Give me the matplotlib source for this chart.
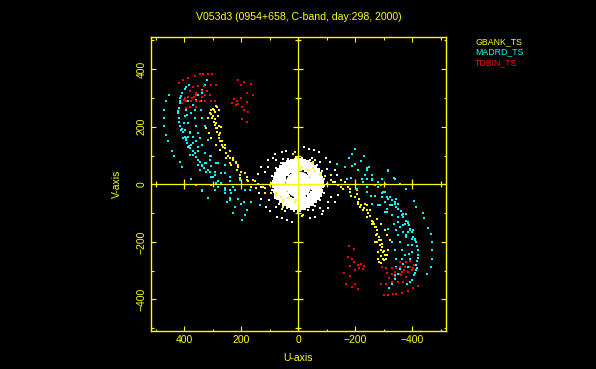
import numpy as np
import matplotlib
matplotlib.use('Agg')
import matplotlib.pyplot as plt

# half of the uv plane, the other half is the conjugate (-u, -v)
white_core = [(0, 0)]
white_ring1 = [(58,0),(57,10),(55,20),(50,29),(44,37),(37,44),(29,50),(20,55),(10,57),(0,58),(-10,57),(-20,55),(-29,50),(-37,44),(-44,37),(-50,29),(-55,20),(-57,10)]
white_ring2 = [(68,0),(67,12),(64,23),(59,34),(52,44),(44,52),(34,59),(23,64),(12,67),(0,68),(-12,67),(-23,64),(-34,59),(-44,52),(-52,44),(-59,34),(-64,23),(-67,12)]
white_ring3 = [(78,0),(77,14),(73,27),(68,39),(60,50),(50,60),(39,68),(27,73),(14,77),(0,78),(-14,77),(-27,73),(-39,68),(-50,60),(-60,50),(-68,39),(-73,27),(-77,14)]
white_ring4 = [(63,5),(61,16),(57,27),(52,36),(45,45),(36,52),(27,57),(16,61),(5,63),(-5,63),(-16,61),(-27,57),(-36,52),(-45,45),(-52,36),(-57,27),(-61,16),(-63,5)]
white_ring5 = [(73,6),(71,19),(66,31),(60,42),(52,52),(42,60),(31,66),(19,71),(6,73),(-6,73),(-19,71),(-31,66),(-42,60),(-52,52),(-60,42),(-66,31),(-71,19),(-73,6)]
white_ring6 = [(84,7),(81,22),(76,36),(69,48),(59,59),(48,69),(36,76),(22,81),(7,84),(-7,84),(-22,81),(-36,76),(-48,69),(-59,59),(-69,48),(-76,36),(-81,22),(-84,7)]
white_fill = [(-51,6),(-50,14),(-47,24),(52,4),(51,14),(-8,52),(6,51),(-40,34),(38,36),(22,47)]
white_sparse = [(92,5),(90,30),(78,56),(60,74),(34,88),(8,94),(-15,92),(-40,84),(-66,68),(-82,46),(-90,20),
                (88,93),(105,60),(117,43),(76,83),(53,89),(-47,93),(-76,78),(-102,54),(-117,31),(-129,8),
                (82,104),(58,112),(43,116),(105,83),(129,60),(140,37),(-20,130),(-39,124),(-55,118),(-73,112),(-97,93),(-113,78),(-129,51),(-138,31)]

yellow_main = [(289,273),(296,259),(298,236),(295,218),(293,207),(289,195),(284,183),(277,160),(273,149),(266,137),(258,126),(252,110),(240,91),(219,73),(199,44),(181,27),(158,15),(141,2),(117,-14),(94,-29),
               (292,250),(290,228),(287,212),(283,195),(278,172),(268,150),(262,130),(246,100),(230,84),(210,60)]
yellow_outer = [(310,247),(315,230),(324,195),(313,178),(304,160),(289,137),(275,120),(252,91),(240,73),(214,50),(205,33),(181,15),(149,-14),(117,-31),(76,-37),(307,259),(302,232),
                (300,262),(305,245),(279,258),(270,200),(228,91),(234,68),(211,68),(205,21),(176,10),(164,-8),(123,-8),(100,-2)]
yellow_inner = [(284,270),(281,236),(277,201),(273,178),(258,137),(240,114),(217,79),(187,39),(152,10)]
yellow_center = [(0,95),(-53,78),(-76,31),(-35,49),(-6,54),(18,107),(76,-32),(53,-56),(12,-61),(58,-85),(0,-90),(-12,-111),(60,-45)]

cyan_main = [(383,346),(398,331),(406,317),(413,299),(415,282),(418,265),(421,247),(419,230),(415,201),(404,183),(398,166),(390,143),(378,126),(369,102),(351,85),(339,68),(324,44),(304,27),(289,4),(258,-14),(234,-31),
             (392,338),(410,308),(416,290),(420,256),(417,215),(409,192),(394,155),(384,134),(360,94),(331,56)]
cyan_arc2 = [(320,361),(328,346),(339,328),(351,311),(357,294),(369,276),(392,259),(398,236),(401,212),(398,189),(386,166),(375,137),(363,108),(343,79),(316,50),(298,27),(269,4),(240,-19)]
cyan_arc3 = [(339,317),(342,288),(342,259),(339,230),(328,201),(316,155),(304,97),(281,73),(257,39),(240,10)]
cyan_arc4 = [(390,241),(386,212),(380,183),(369,143),(351,114),(328,73),(310,44),(281,10)]
cyan_outer = [(453,311),(465,288),(469,259),(470,230),(469,201),(465,172),(456,152),(442,117),(437,99),(415,79),(407,59),(377,18),(359,-2),(336,-23),(316,-46)]
cyan_inner = [(293,-20),(240,-55),(188,-107),(198,-124),(210,-50),(190,-62),(164,-61),(187,-21),(250,-60),(220,-80),(230,-100),(200,-70),(180,-90)]
cyan_extra = [(380,178),(369,166),(357,149),(345,160),(386,131),(369,114),(351,131),(336,137),(328,108),(310,97),(339,62),(322,73),(345,50),(304,62),(287,73),
              (304,-2),(281,-8),(258,-31),(228,-8),(269,39),(240,27),(293,44),(404,160),(410,189),(392,160),(380,102),(351,68),(375,247),(363,230),(386,288),(363,259),(357,201),(351,178),
              (258,67),(205,15),(170,-20),(223,-20),(135,-72),(293,32),(258,-20),(311,85),(339,-19),(240,-48),(316,-48)]

red_arc = [(419,352),(404,361),(386,371),(363,378),(345,383),(334,383),(316,384),(301,384)]
red_cluster1 = [(369,338),(351,340),(331,340),(307,346),(289,346),(380,323),(360,317),(339,323),(320,325),(398,299),(386,305),(372,299),(357,311),(339,305),(328,311),(310,309),(406,282),(392,288),(375,288),(357,288),(345,290),(328,290),(307,290),(293,288),(392,265),(380,270),(357,270),(402,292),(366,305)]
red_cluster2 = [(211,363),(190,357),(167,348),(199,346),(181,319),(160,309),(201,299),(181,285),(226,296),(214,291),(231,284),(211,280),(196,270),(190,259),(176,253),(197,226),(179,215),(219,276)]

major = [-400, -200, 200, 400]
minor = [-500, -300, -100, 100, 300, 500]
tick_vals = [400, 200, 0, -200, -400]
tick_txt = ['400', '200', '0', '\u2212200', '\u2212400']
legend_names = ['GBANK_TS', 'MADRD_TS', 'TDBIN_TS']
legend_cols = ['#ffff00', '#00ffff', '#ff0000']

YEL = '#ffff00'
FONT = 'Liberation Sans'


def both(pts):
    a = np.array(pts, dtype=float)
    return np.r_[a[:, 0], -a[:, 0]], np.r_[a[:, 1], -a[:, 1]]


fig = plt.figure(figsize=(5.96, 3.69), dpi=100, facecolor='black')
ax = fig.add_axes([150.5 / 596, 1 - 331 / 369, 295 / 596, 294 / 369], facecolor='black')
ax.set_xlim(518, -517)
ax.set_ylim(-510, 512)


def dots(groups, col, s):
    for g in groups:
        x, y = both(g)
        ax.scatter(x, y, s=s, c=col, marker='s', linewidths=0, zorder=3)


# white centre
ax.scatter([p[0] for p in white_core], [p[1] for p in white_core], s=360, c='white', linewidths=0, zorder=2)
dots([white_ring1, white_ring2, white_ring3, white_ring4, white_ring5, white_ring6, white_fill], 'white', 5.5)
dots([white_sparse], 'white', 1.3)
dots([yellow_main], YEL, 4)
dots([yellow_outer, yellow_inner, yellow_center], YEL, 1.8)
dots([cyan_main], '#00ffff', 3.5)
dots([cyan_arc2, cyan_arc3, cyan_arc4, cyan_outer, cyan_inner, cyan_extra], '#00ffff', 1.5)
dots([red_arc, red_cluster1, red_cluster2], '#ff0000', 1.5)

# zero lines with their own ticks
ax.axhline(0, color=YEL, lw=0.9, zorder=4)
ax.axvline(0, color=YEL, lw=0.9, zorder=4)
ax.vlines(major, -18, 18, color=YEL, lw=0.9, zorder=4)
ax.vlines(minor, -10, 10, color=YEL, lw=0.9, zorder=4)
ax.hlines(major, -18, 18, color=YEL, lw=0.9, zorder=4)
ax.hlines(minor, -10, 10, color=YEL, lw=0.9, zorder=4)

for s in ax.spines.values():
    s.set_color(YEL)
    s.set_linewidth(1.0)
ax.set_xticks(tick_vals)
ax.set_xticks(minor, minor=True)
ax.set_yticks(tick_vals)
ax.set_yticks(minor, minor=True)
ax.set_xticklabels(tick_txt, fontsize=7.5, family=FONT, color=YEL)
ax.set_yticklabels(tick_txt, fontsize=7.5, family=FONT, color=YEL, rotation=90, va='center')
ax.tick_params(which='major', direction='in', length=3.5, width=0.8, color=YEL, top=True, right=True, pad=3)
ax.tick_params(which='minor', direction='in', length=1.8, width=0.8, color=YEL, top=True, right=True)

fig.text(298.5 / 596, 1 - 17 / 369, 'V053d3 (0954+658, C-band, day:298, 2000)', color=YEL,
         fontsize=7.6, family=FONT, ha='center', va='center')
fig.text(298.5 / 596, 1 - 358 / 369, 'U-axis', color=YEL, fontsize=7.5, family=FONT, ha='center', va='center')
fig.text(117 / 596, 1 - 184 / 369, 'V-axis', color=YEL, fontsize=7.5, family=FONT, ha='center', va='center', rotation=90)
for name, col, ypx in zip(legend_names, legend_cols, [41.5, 52, 62.5]):
    fig.text(475 / 596, 1 - ypx / 369, name, color=col, fontsize=6.3, family=FONT, ha='left', va='center')

fig.savefig('out.png', dpi=100, facecolor='black')
